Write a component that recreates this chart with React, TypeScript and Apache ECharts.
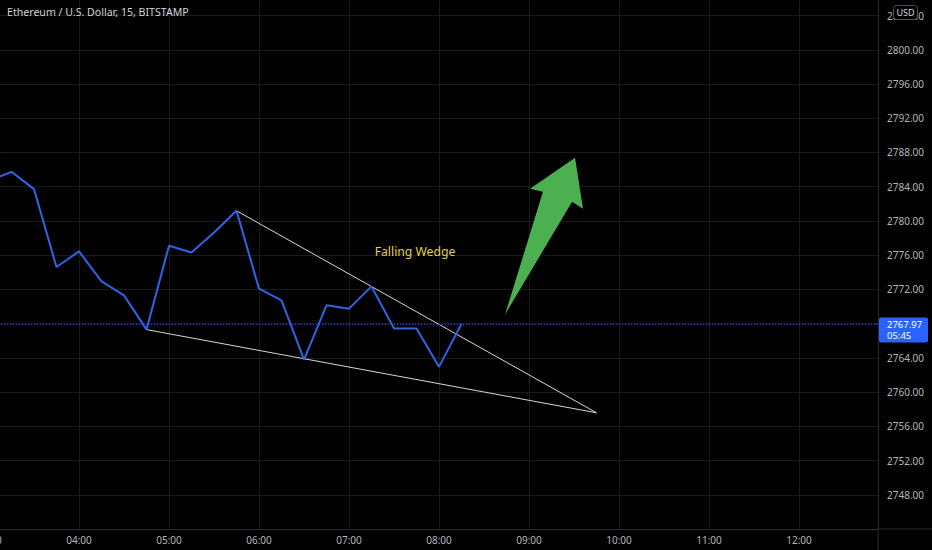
import React, { useEffect, useRef } from "react";
import * as echarts from "echarts";

// ---- data ----
const chartTitle = "Ethereum / U.S. Dollar, 15, BITSTAMP";
const times = [
  "03:00", "03:15", "03:30", "03:45", "04:00", "04:15", "04:30", "04:45",
  "05:00", "05:15", "05:30", "05:45", "06:00", "06:15", "06:30", "06:45",
  "07:00", "07:15", "07:30", "07:45", "08:00", "08:15",
];
const closes = [
  2784.69, 2785.74, 2783.72, 2774.62, 2776.44, 2772.94, 2771.3, 2767.3,
  2777.1, 2776.32, 2778.65, 2781.19, 2772.08, 2770.72, 2763.8, 2770.14,
  2769.75, 2772.35, 2767.42, 2767.42, 2762.95, 2767.97,
];
const lastPrice = 2767.97;
const countdown = "05:45";
const currency = "USD";

const upperWedgeTimes = ["05:45", "09:45"];
const upperWedgePrices = [2781.19, 2757.58];
const lowerWedgeTimes = ["04:45", "09:45"];
const lowerWedgePrices = [2767.3, 2757.58];

const wedgeLabel = "Falling Wedge";
const wedgeLabelTime = "07:44";
const wedgeLabelPrice = 2776.44;

// arrow outline: tail, inner-left, left wing, tip, right wing, inner-right
const arrowTimes = ["08:44", "09:09.3", "09:00.7", "09:30.7", "09:36", "09:28.7"];
const arrowPrices = [2769.05, 2783.4, 2783.75, 2787.37, 2781.42, 2782.24];

const xMin = 180; // 03:00 in minutes
const xMax = 772.67;
const yMin = 2744;
const yMax = 2808;
const hiddenTick = 2768; // covered by the last-price tag

const toMin = (t: string) => {
  const [h, m] = t.split(":");
  return Number(h) * 60 + Number(m);
};
const fmtTime = (v: number) => {
  const h = Math.floor(v / 60);
  const m = Math.round(v - h * 60);
  return `${String(h).padStart(2, "0")}:${String(m).padStart(2, "0")}`;
};

const FONT = "'Noto Sans', sans-serif";
const AXIS_TEXT = "#b2b5be";
const GRID = "#1b1b1b";
const BORDER = "#2c2c2c";

export default function App() {
  const ref = useRef<HTMLDivElement>(null);

  useEffect(() => {
    document.body.style.margin = "0";
    document.body.style.background = "#000";
    const chart = echarts.init(ref.current!, null, { renderer: "svg" });

    const option: any = {
      animation: false,
      backgroundColor: "#000000",
      title: {
        text: chartTitle,
        left: 2,
        top: 1,
        textStyle: { color: "#d1d4dc", fontSize: 10.6, fontWeight: "normal", fontFamily: FONT },
      },
      grid: {
        left: -11,
        right: 54,
        top: -18.66,
        bottom: 21,
        containLabel: false,
        outerBoundsMode: "none",
      },
      xAxis: {
        type: "value",
        min: xMin,
        max: xMax,
        interval: 60,
        axisLine: { show: true, lineStyle: { color: BORDER, width: 1 } },
        axisTick: { show: false },
        axisLabel: {
          formatter: (v: number) => fmtTime(v),
          color: AXIS_TEXT,
          fontSize: 10,
          fontFamily: FONT,
          margin: 6,
          showMaxLabel: false,
          showMinLabel: true,
          hideOverlap: false,
        },
        splitLine: { show: true, lineStyle: { color: GRID, width: 1 } },
      },
      yAxis: {
        type: "value",
        position: "right",
        min: yMin,
        max: yMax,
        interval: 4,
        axisLine: { show: true, lineStyle: { color: BORDER, width: 1 } },
        axisTick: { show: false },
        axisLabel: {
          formatter: (v: number) => (Math.abs(v - hiddenTick) < 1e-6 ? "" : v.toFixed(2)),
          color: AXIS_TEXT,
          fontSize: 10,
          fontFamily: FONT,
          margin: 9,
          showMinLabel: false,
          showMaxLabel: false,
        },
        splitLine: { show: true, lineStyle: { color: GRID, width: 1 } },
      },
      series: [
        {
          type: "line",
          name: "upper",
          data: upperWedgeTimes.map((t, i) => [toMin(t), upperWedgePrices[i]]),
          symbol: "none",
          lineStyle: { color: "#d6d6d6", width: 1 },
          z: 2,
          silent: true,
        },
        {
          type: "line",
          name: "lower",
          data: lowerWedgeTimes.map((t, i) => [toMin(t), lowerWedgePrices[i]]),
          symbol: "none",
          lineStyle: { color: "#d6d6d6", width: 1 },
          z: 2,
          silent: true,
        },
        {
          type: "line",
          name: "ETHUSD",
          data: times.map((t, i) => [toMin(t), closes[i]]),
          symbol: "none",
          lineStyle: { color: "#2f64e6", width: 2 },
          z: 4,
          markLine: {
            silent: true,
            symbol: ["none", "none"],
            label: { show: false },
            lineStyle: { color: "#3a5ae8", type: [1, 2], width: 1, opacity: 0.9 },
            data: [{ yAxis: lastPrice }],
          },
        },
        {
          type: "custom",
          name: "arrow",
          data: [[toMin(arrowTimes[0]), arrowPrices[0]]],
          renderItem: (_p: any, api: any) => {
            const pts = arrowTimes.map((t, i) => api.coord([toMin(t), arrowPrices[i]]));
            return { type: "polygon", shape: { points: pts }, style: { fill: "#4cb050" } };
          },
          z: 5,
          silent: true,
        },
        {
          type: "custom",
          name: "label",
          data: [[toMin(wedgeLabelTime), wedgeLabelPrice]],
          renderItem: (_p: any, api: any) => {
            const p = api.coord([api.value(0), api.value(1)]);
            return {
              type: "text",
              x: p[0],
              y: p[1],
              style: {
                text: wedgeLabel,
                fill: "#e6d33c",
                fontSize: 12.2,
                fontFamily: FONT,
                align: "center",
                verticalAlign: "middle",
              },
            };
          },
          z: 5,
          silent: true,
        },
      ],
    };

    chart.setOption(option);

    const py = chart.convertToPixel({ yAxisIndex: 0 }, lastPrice) as number;
    const axisX = chart.convertToPixel({ xAxisIndex: 0 }, xMax) as number;
    const axisY = chart.convertToPixel({ yAxisIndex: 0 }, yMin) as number;

    chart.setOption({
      graphic: [
        {
          type: "line",
          silent: true,
          shape: { x1: axisX, y1: axisY, x2: 932, y2: axisY },
          style: { stroke: BORDER, lineWidth: 1 },
        },
        {
          type: "line",
          silent: true,
          shape: { x1: axisX, y1: axisY, x2: axisX, y2: 550 },
          style: { stroke: BORDER, lineWidth: 1 },
        },
        {
          type: "rect",
          silent: true,
          shape: { x: axisX + 1, y: py - 6.5, width: 49, height: 25, r: 2 },
          style: { fill: "#2962ff" },
          z: 10,
        },
        {
          type: "text",
          silent: true,
          x: axisX + 9,
          y: py + 6,
          style: {
            text: `${lastPrice.toFixed(2)}\n${countdown}`,
            fill: "#ffffff",
            fontSize: 9.5,
            lineHeight: 10.5,
            fontFamily: FONT,
            align: "left",
            verticalAlign: "middle",
          },
          z: 11,
        },
        {
          type: "rect",
          silent: true,
          shape: { x: 893.5, y: 5.5, width: 24, height: 14, r: 3 },
          style: { fill: "#000000", stroke: "#4a4d57", lineWidth: 1 },
          z: 10,
        },
        {
          type: "text",
          silent: true,
          x: 905.5,
          y: 12.5,
          style: {
            text: currency,
            fill: "#d1d4dc",
            fontSize: 9,
            fontFamily: FONT,
            align: "center",
            verticalAlign: "middle",
          },
          z: 11,
        },
      ],
    });

    return () => chart.dispose();
  }, []);

  return <div ref={ref} style={{ width: 932, height: 550 }} />;
}
